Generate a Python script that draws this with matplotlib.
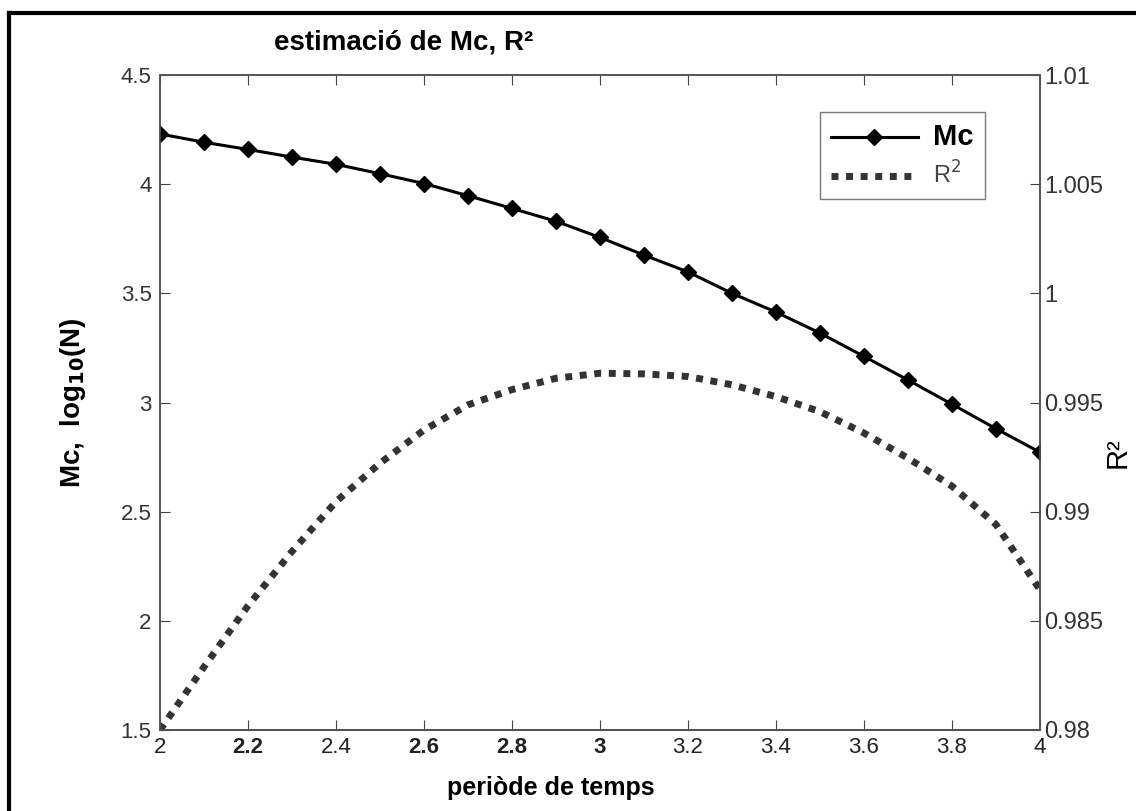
import matplotlib
matplotlib.use('Agg')
import matplotlib.pyplot as plt
from matplotlib.lines import Line2D

plt.rcParams['font.family'] = ['Liberation Sans', 'DejaVu Sans']

# periode de temps
periode = [2.0, 2.1, 2.2, 2.3, 2.4, 2.5, 2.6, 2.7, 2.8, 2.9, 3.0,
           3.1, 3.2, 3.3, 3.4, 3.5, 3.6, 3.7, 3.8, 3.9, 4.0]
# Mc, log10(N)
mc = [4.230, 4.192, 4.159, 4.124, 4.091, 4.048, 4.003, 3.947, 3.889, 3.830, 3.756,
      3.675, 3.598, 3.500, 3.414, 3.318, 3.211, 3.103, 2.992, 2.880, 2.772]
# R^2
r2 = [0.9800, 0.98289, 0.98569, 0.98818, 0.99046, 0.99222, 0.99374, 0.99489, 0.99559, 0.99611, 0.99634,
      0.99631, 0.99619, 0.99581, 0.99527, 0.99458, 0.99360, 0.99245, 0.99117, 0.98941, 0.98642]

xticks = [2, 2.2, 2.4, 2.6, 2.8, 3, 3.2, 3.4, 3.6, 3.8, 4]
xtick_labels = ['2', '2.2', '2.4', '2.6', '2.8', '3', '3.2', '3.4', '3.6', '3.8', '4']
bold_xticks = ['2.2', '2.6', '2.8', '3']
yticks_left = [1.5, 2, 2.5, 3, 3.5, 4, 4.5]
ylabels_left = ['1.5', '2', '2.5', '3', '3.5', '4', '4.5']
yticks_right = [0.98, 0.985, 0.99, 0.995, 1, 1.005, 1.01]
ylabels_right = ['0.98', '0.985', '0.99', '0.995', '1', '1.005', '1.01']

W, H = 1136, 811
fig = plt.figure(figsize=(W / 100, H / 100), dpi=100)
ax1 = fig.add_axes([160 / W, 1 - 730 / H, 880 / W, 655 / H])
ax2 = ax1.twinx()

ax1.plot(periode, mc, color='black', lw=2.2, marker='D', ms=8, zorder=3)
ax2.plot(periode, r2, color='#333333', lw=5, ls=(0, (1, 1.1)), zorder=2)

ax1.set_xlim(2, 4)
ax1.set_ylim(1.5, 4.5)
ax2.set_ylim(0.98, 1.01)

ax1.set_xticks(xticks)
ax1.set_xticklabels(xtick_labels)
ax1.set_yticks(yticks_left)
ax1.set_yticklabels(ylabels_left)
ax2.set_yticks(yticks_right)
ax2.set_yticklabels(ylabels_right)

for lab in ax1.get_xticklabels():
    lab.set_fontsize(16)
    lab.set_color('#222222')
    if lab.get_text() in bold_xticks:
        lab.set_fontweight('bold')

ax1.tick_params(axis='x', direction='in', length=7, top=True, pad=5, color='#444444')
ax1.tick_params(axis='y', direction='in', length=7, labelsize=16, labelcolor='#333333', color='#444444', pad=6)
ax2.tick_params(axis='y', direction='in', length=7, labelsize=17, labelcolor='#333333', color='#444444', pad=3)

for ax in (ax1, ax2):
    for s in ax.spines.values():
        s.set_color('#555555')
        s.set_linewidth(1.2)
ax1.spines['bottom'].set_color('#222222')

ax1.set_xlabel('periòde de temps', fontsize=18, fontweight='bold')
ax1.xaxis.set_label_coords((551 - 160) / 880, (730 - 776) / 655)
ax1.set_ylabel(r'Mc,  log$_{\mathbf{10}}$(N)', fontsize=20, fontweight='bold')
ax1.yaxis.set_label_coords((88 - 160) / 880, 0.5)
ax2.set_ylabel('R²', fontsize=21)
ax2.yaxis.set_label_coords((1104 - 160) / 880, (730 - 453) / 655)

fig.text(404 / W, 1 - 49 / H, 'estimació de Mc, R²', fontsize=20, fontweight='bold',
         ha='center', va='baseline')

handles = [Line2D([], [], color='black', lw=2.2, marker='D', ms=8),
           Line2D([], [], color='#333333', lw=5, ls=(0, (1, 1.1)))]
leg = ax1.legend(handles, ['Mc', 'R$^2$'], loc='upper left', prop={'size': 16},
                 bbox_to_anchor=((820 - 160) / 880, (730 - 112) / 655), fancybox=False, framealpha=1,
                 edgecolor='#777777', handlelength=3.9, borderpad=0.5, labelspacing=0.45,
                 handletextpad=0.7, borderaxespad=0)
texts = leg.get_texts()
texts[0].set_fontsize(21)
texts[0].set_fontweight('bold')
texts[1].set_fontsize(17)
texts[1].set_color('#444444')

# figure border (only top and left visible in the crop)
fig.add_artist(Line2D([9 / W, 9 / W], [0, 1 - 13 / H], transform=fig.transFigure,
                      color='black', lw=3))
fig.add_artist(Line2D([9 / W, 1], [1 - 13 / H, 1 - 13 / H], transform=fig.transFigure,
                      color='black', lw=3))

fig.savefig('out.png', dpi=100)
